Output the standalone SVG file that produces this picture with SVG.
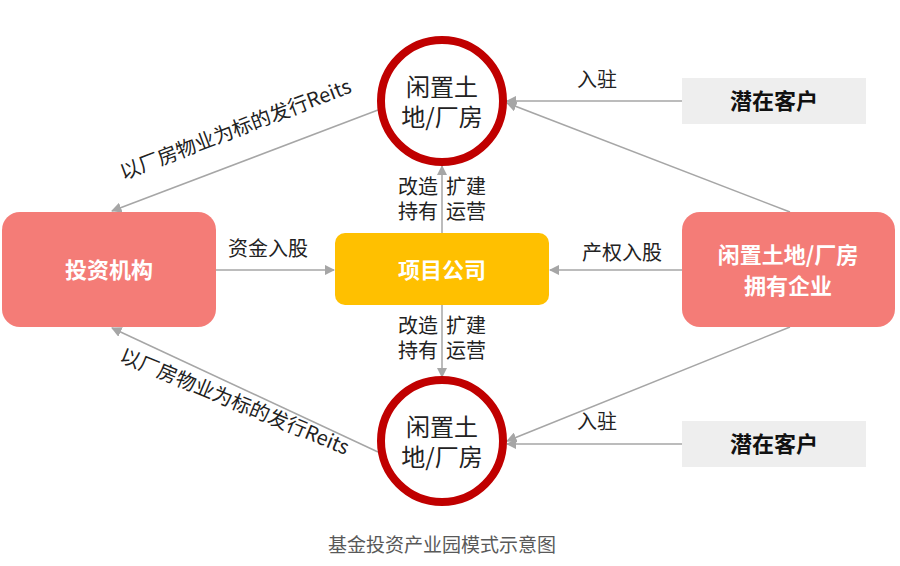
<svg xmlns="http://www.w3.org/2000/svg" width="900" height="566" viewBox="0 0 900 566">
<style>
text{font-family:"Microsoft YaHei","Noto Sans CJK SC",sans-serif;}
.l{fill:#222;font-size:20px;}
.t{fill:#222;font-size:24px;}
.w{fill:#fff;font-size:22px;font-weight:bold;}
.b{fill:#111;font-size:22px;font-weight:bold;}
.c{stroke:#A6A6A6;stroke-width:1.5;fill:none;marker-end:url(#a);}
</style>
<defs><marker id="a" viewBox="0 0 10 10" refX="9" refY="5" markerWidth="7" markerHeight="7" orient="auto"><path d="M0,0L10,5L0,10z" fill="#A6A6A6"/></marker></defs>
<rect width="900" height="566" fill="#fff"/>
<g id="connectors">
<path class="c" d="M378,110L112,211"/>
<path class="c" d="M378,452L112,328"/>
<path class="c" d="M442,233L442,166"/>
<path class="c" d="M442,305L442,377"/>
<path class="c" d="M216,270L334,270"/>
<path class="c" d="M682,270L550,270"/>
<path class="c" d="M682,101L507,101"/>
<path class="c" d="M790,212L507,103"/>
<path class="c" d="M682,444L507,444"/>
<path class="c" d="M790,327L507,441"/>
</g>
<g id="labels">
<text class="l" transform="translate(238,136) rotate(-21)" text-anchor="middle">以厂房物业为标的发行Reits</text>
<text class="l" transform="translate(232,408) rotate(22.5)" text-anchor="middle">以厂房物业为标的发行Reits</text>
<text class="l" x="268" y="256" text-anchor="middle">资金入股</text>
<text class="l" x="622" y="260" text-anchor="middle">产权入股</text>
<text class="l" x="597" y="87" text-anchor="middle">入驻</text>
<text class="l" x="597" y="429" text-anchor="middle">入驻</text>
<text class="l" x="438" y="194" text-anchor="end">改造</text><text class="l" x="446" y="194">扩建</text>
<text class="l" x="438" y="219" text-anchor="end">持有</text><text class="l" x="446" y="219">运营</text>
<text class="l" x="438" y="333" text-anchor="end">改造</text><text class="l" x="446" y="333">扩建</text>
<text class="l" x="438" y="358" text-anchor="end">持有</text><text class="l" x="446" y="358">运营</text>
<text x="442" y="552" text-anchor="middle" fill="#595959" font-size="19">基金投资产业园模式示意图</text>
</g>
<g id="circle-top"><circle cx="442" cy="101" r="61" fill="#fff" stroke="#C00000" stroke-width="8"/>
<text class="t" x="442" y="96" text-anchor="middle">闲置土</text><text class="t" x="442" y="126" text-anchor="middle">地/厂房</text></g>
<g id="circle-bottom"><circle cx="442" cy="441" r="61" fill="#fff" stroke="#C00000" stroke-width="8"/>
<text class="t" x="442" y="436" text-anchor="middle">闲置土</text><text class="t" x="442" y="466" text-anchor="middle">地/厂房</text></g>
<g id="investor"><rect x="2" y="212" width="214" height="115" rx="18" fill="#F47C77"/><text class="w" x="109" y="278" text-anchor="middle">投资机构</text></g>
<g id="project"><rect x="335" y="233" width="214" height="72" rx="10" fill="#FFC000"/><text class="w" x="442" y="278" text-anchor="middle">项目公司</text></g>
<g id="owner"><rect x="682" y="212" width="213" height="115" rx="18" fill="#F47C77"/><text class="w" x="788" y="263" text-anchor="middle">闲置土地/厂房</text><text class="w" x="788" y="294" text-anchor="middle">拥有企业</text></g>
<g id="client-top"><rect x="682" y="78" width="184" height="46" fill="#EEEEEE"/><text class="b" x="774" y="109" text-anchor="middle">潜在客户</text></g>
<g id="client-bottom"><rect x="682" y="421" width="184" height="46" fill="#EEEEEE"/><text class="b" x="774" y="452" text-anchor="middle">潜在客户</text></g>
</svg>
